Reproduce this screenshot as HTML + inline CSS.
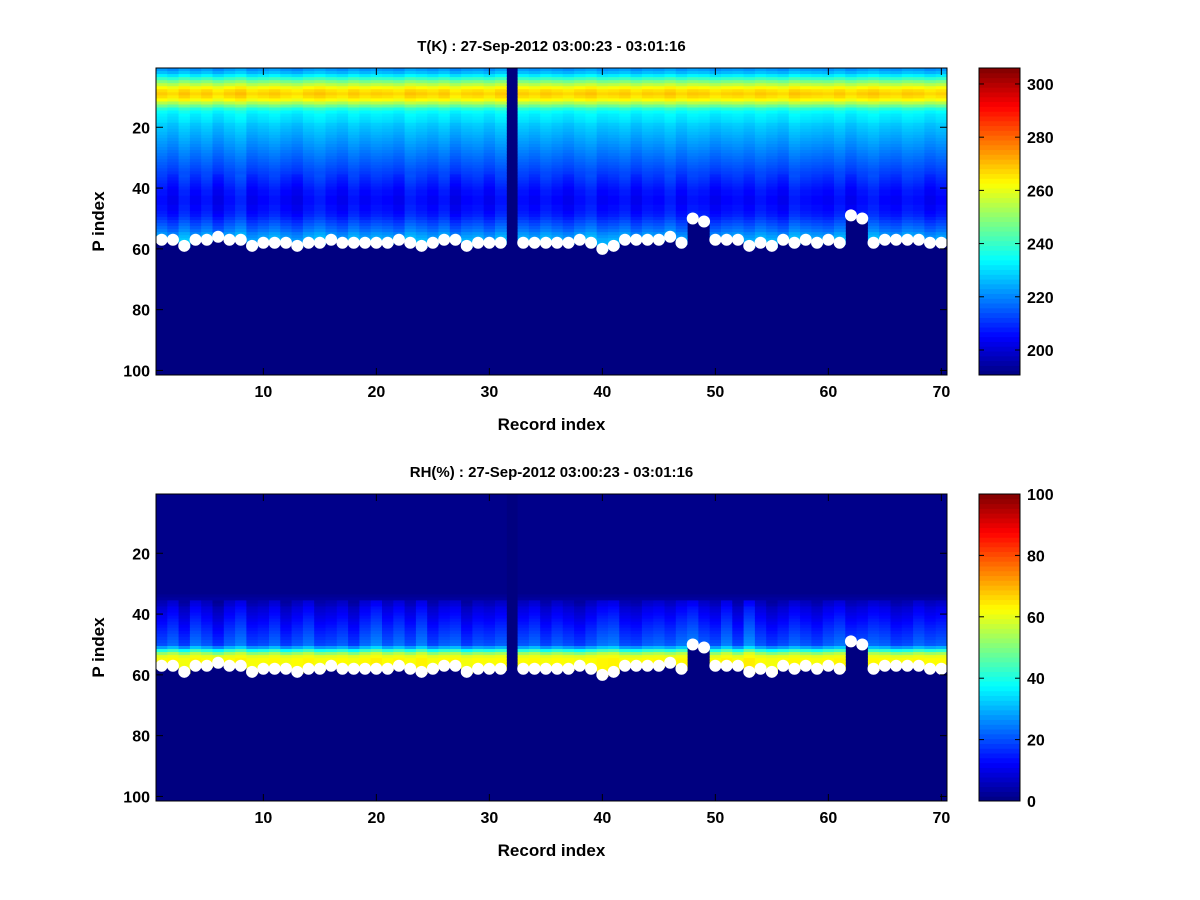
<!DOCTYPE html>
<html><head><meta charset="utf-8">
<style>
body{margin:0;background:#fff;}
svg{display:block;font-family:"Liberation Sans",Arial,sans-serif;font-weight:bold;}
</style></head>
<body>
<svg id="fig" width="1200" height="900" viewBox="0 0 1200 900"></svg>
<script>
const records = Array.from({length:70},(_,i)=>i+1);
const surface = [57,57,59,57,57,56,57,57,59,58,58,58,59,58,58,57,58,58,58,58,58,57,58,59,58,57,57,59,58,58,58,null,58,58,58,58,58,57,58,60,59,57,57,57,57,56,58,50,51,57,57,57,59,58,59,57,58,57,58,57,58,49,50,58,57,57,57,57,58,58];
const tProfile = [222,226,232,240,248,255,262,266,268,266,262,254,246,238,234,232,231,230,228,227,226,225,224,223,222,221,220,219,218,217,216,215,214,213,212,211,210,209,208,207,206,206,205,205,205,206,206,207,208,210,212,214,216,218,221,223,225,226,226,226];
const tOffset = [1,-2,3,-1,2,-3,1,4,-2,0,2,-1,-3,1,3,0,-2,2,-1,1,0,-2,3,1,-1,2,-3,0,1,-2,2,0,1,-1,2,0,-2,1,3,-1,0,2,-2,1,0,3,-1,2,1,-2,0,1,-1,2,0,-2,3,1,0,-1,2,-2,1,3,0,-1,2,1,-2,0];
const rhProfile = [1,1,1,1,1,1,1,1,1,1,1,1,1,1,1,1,1,1,1,1,1,1,1,1,1,1,1,1,1,1,1,1,1,2,3,5,6,8,9,10,11,12,13,14,15,16,17,18,19,20,28,40,52,60,62,62,62,62,62,62];
const rhOffset = [0,3,-2,4,1,-3,2,5,-1,0,3,-2,1,4,-1,0,2,-2,3,6,1,4,0,5,-1,2,3,-2,1,0,2,0,1,3,-1,2,0,-2,1,4,5,0,-1,2,3,1,4,6,2,0,5,-1,7,1,-2,0,3,1,-1,2,4,0,1,3,2,-1,0,3,1,2];
const tTicks = [200,220,240,260,280,300];
const rhTicks = [0,20,40,60,80,100];
const xTicks = [10,20,30,40,50,60,70];
const yTicks = [20,40,60,80,100];

const NS="http://www.w3.org/2000/svg";
const svg=document.getElementById('fig');
function mk(tag,attrs,parent){const e=document.createElementNS(NS,tag);for(const k in attrs)e.setAttribute(k,attrs[k]);(parent||svg).appendChild(e);return e;}
function jet(v){v=Math.max(0,Math.min(1,v));const c=x=>Math.round(255*Math.max(0,Math.min(1,1.5-Math.abs(x))));return `rgb(${c(4*v-3)},${c(4*v-2)},${c(4*v-1)})`;}

function panel(T, profile, offset, vmin, vmax, cTicks, title, prefix, isRH){
  const L=156,W=791,H=307,NP=101;
  const xs=r=>L+(r-0.5)*W/70;
  const ys=p=>T+(p-0.5)*H/NP;
  const g=mk('g',{});
  
  
  const bg=mk('rect',{x:L,y:T,width:W,height:H,fill:jet(0)},g);
  
  
  records.forEach((r,i)=>{
    const s=surface[i];
    if(s===null) return;
    for(let p=1;p<=s;p++){
      let f;
      if(isRH) f = p<=35?0:(p>=54?0.3:1);
      else f = p>35?1:0.6;
      const val=profile[p-1]+offset[i]*f;
      const cell=mk('rect',{x:xs(r-0.5),y:ys(p-0.5),width:W/70+0.5,height:H/NP+0.5,fill:jet((val-vmin)/(vmax-vmin))},g);
      
      
    }
  });
  records.forEach((r,i)=>{
    if(surface[i]===null) return;
    const m=mk('circle',{cx:xs(r),cy:ys(surface[i]),r:6,fill:'#fff'},g);
    
    
  });
  const fr=mk('rect',{x:L,y:T,width:W,height:H,fill:'none',stroke:'#000','stroke-width':1},g);
  
  
  xTicks.forEach(t=>{
    const x=xs(t);
    mk('line',{x1:x,y1:T+H,x2:x,y2:T+H-7,stroke:'#000'},g);
    mk('line',{x1:x,y1:T,x2:x,y2:T+7,stroke:'#000'},g);
    const tx=mk('text',{x:x,y:T+H+22,'text-anchor':'middle','font-size':16},g);
    tx.textContent=t;
    
    
  });
  yTicks.forEach(t=>{
    const y=ys(t);
    mk('line',{x1:L,y1:y,x2:L+7,y2:y,stroke:'#000'},g);
    mk('line',{x1:L+W,y1:y,x2:L+W-7,y2:y,stroke:'#000'},g);
    const tx=mk('text',{x:L-6,y:y+6,'text-anchor':'end','font-size':16},g);
    tx.textContent=t;
    
    
  });
  const ti=mk('text',{x:L+W/2,y:T-17,'text-anchor':'middle','font-size':15},g);
  ti.textContent=title;
  
  
  const xl=mk('text',{x:L+W/2,y:T+H+55,'text-anchor':'middle','font-size':17},g);
  xl.textContent='Record index';
  
  
  const yl=mk('text',{x:0,y:0,'text-anchor':'middle','font-size':17,transform:`translate(104,${T+H/2}) rotate(-90)`},g);
  yl.textContent='P index';
  
  
  const CL=979,CW=41;
  const cb=mk('g',{},g);
  
  
  const n=64;
  for(let k=0;k<n;k++){
    mk('rect',{x:CL,y:T+H-(k+1)*H/n,width:CW,height:H/n+0.5,fill:jet((k+0.5)/n)},cb);
  }
  mk('rect',{x:CL,y:T,width:CW,height:H,fill:'none',stroke:'#000'},cb);
  const cy=v=>T+H-(v-vmin)/(vmax-vmin)*H;
  cTicks.forEach(t=>{
    const y=cy(t);
    mk('line',{x1:CL,y1:y,x2:CL+5,y2:y,stroke:'#000'},cb);
    mk('line',{x1:CL+CW,y1:y,x2:CL+CW-5,y2:y,stroke:'#000'},cb);
    const tx=mk('text',{x:CL+CW+7,y:y+6,'font-size':16},cb);
    tx.textContent=t;
    
    
  });
}
panel(68,tProfile,tOffset,190.6,306,tTicks,'T(K) : 27-Sep-2012 03:00:23 - 03:01:16','temperature',false);
panel(494,rhProfile,rhOffset,0,100,rhTicks,'RH(%) : 27-Sep-2012 03:00:23 - 03:01:16','humidity',true);
</script>
</body></html>
